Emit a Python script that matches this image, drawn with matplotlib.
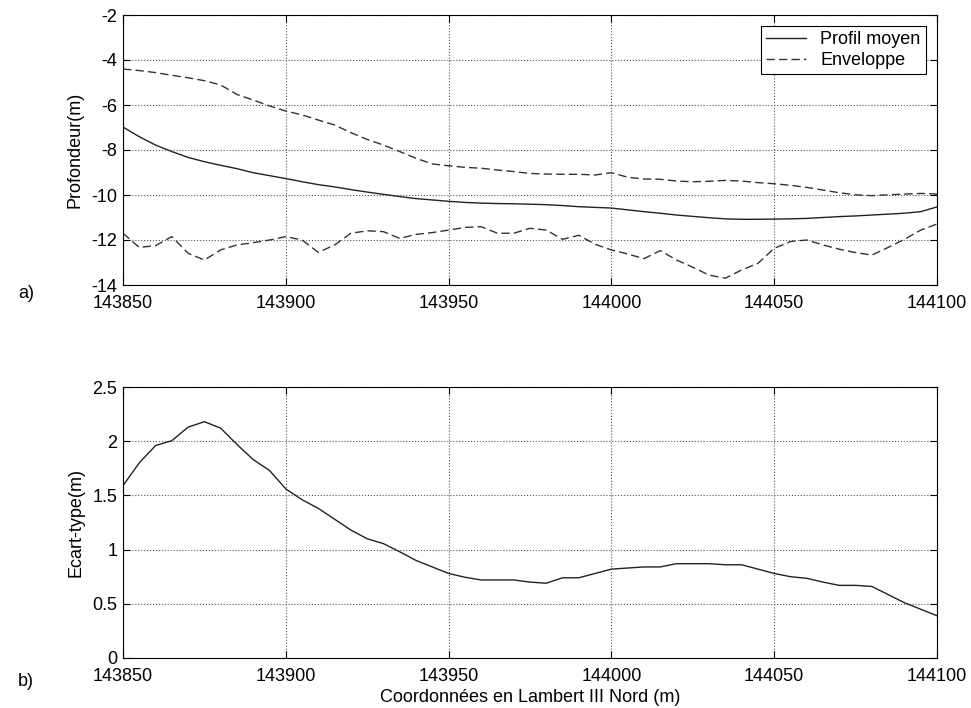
import numpy as np
import matplotlib
matplotlib.use("Agg")
import matplotlib.pyplot as plt

plt.rcParams["font.family"] = ["Liberation Sans", "DejaVu Sans"]
plt.rcParams["font.size"] = 13
plt.rcParams["axes.unicode_minus"] = False

# abscisses (Lambert III Nord, m), pas de 5 m
x = np.arange(143850, 144101, 5)

# profil moyen (m)
profil = [-6.98, -7.41, -7.78, -8.07, -8.33, -8.52, -8.68, -8.83, -9.01, -9.14,
          -9.27, -9.41, -9.54, -9.64, -9.76, -9.87, -9.97, -10.07, -10.16, -10.22,
          -10.28, -10.33, -10.36, -10.38, -10.39, -10.41, -10.43, -10.47, -10.52, -10.55,
          -10.58, -10.66, -10.74, -10.81, -10.89, -10.95, -11.01, -11.06, -11.08, -11.08,
          -11.07, -11.06, -11.04, -11.00, -10.96, -10.93, -10.89, -10.85, -10.81, -10.74,
          -10.53]

# enveloppe haute
env_haut = [-4.40, -4.47, -4.56, -4.68, -4.79, -4.92, -5.11, -5.53, -5.78, -6.04,
            -6.27, -6.44, -6.67, -6.89, -7.23, -7.53, -7.78, -8.07, -8.37, -8.62,
            -8.70, -8.77, -8.81, -8.89, -8.96, -9.04, -9.07, -9.08, -9.08, -9.11,
            -9.01, -9.21, -9.29, -9.30, -9.38, -9.41, -9.39, -9.35, -9.38, -9.45,
            -9.50, -9.57, -9.66, -9.78, -9.90, -9.99, -10.03, -9.99, -9.96, -9.93,
            -9.96]

# enveloppe basse
env_bas = [-11.70, -12.33, -12.25, -11.85, -12.59, -12.89, -12.44, -12.22, -12.12, -12.00,
           -11.85, -12.00, -12.55, -12.22, -11.70, -11.59, -11.63, -11.93, -11.75, -11.67,
           -11.56, -11.44, -11.41, -11.70, -11.70, -11.48, -11.56, -11.97, -11.79, -12.19,
           -12.44, -12.62, -12.83, -12.47, -12.89, -13.21, -13.56, -13.70, -13.33, -13.04,
           -12.37, -12.07, -12.00, -12.22, -12.41, -12.56, -12.67, -12.33, -11.97, -11.56,
           -11.29]

# ecart-type (m)
ecart = [1.59, 1.80, 1.96, 2.005, 2.13, 2.18, 2.12, 1.97, 1.83, 1.73,
         1.56, 1.46, 1.38, 1.28, 1.18, 1.10, 1.055, 0.98, 0.90, 0.84,
         0.78, 0.745, 0.72, 0.72, 0.72, 0.70, 0.69, 0.74, 0.74, 0.78,
         0.82, 0.83, 0.84, 0.84, 0.87, 0.87, 0.87, 0.86, 0.86, 0.82,
         0.78, 0.75, 0.735, 0.70, 0.67, 0.67, 0.66, 0.585, 0.51, 0.45,
         0.39]

xticks = [143850, 143900, 143950, 144000, 144050, 144100]

fig = plt.figure(figsize=(9.71, 7.08), dpi=100)
ax1 = fig.add_axes([123/971, 1 - 285/708, (937-123)/971, (285-15)/708])
ax2 = fig.add_axes([123/971, 1 - 658/708, (937-123)/971, (658-387)/708])

col = "#222222"
ax1.plot(x, profil, "-", color=col, lw=1.0, label="Profil moyen")
ax1.plot(x, env_haut, "--", color="#333333", lw=1.0, dashes=(6, 3), label="Enveloppe")
ax1.plot(x, env_bas, "--", color="#333333", lw=1.0, dashes=(6, 3))
ax1.set_ylim(-14, -2)
ax1.set_yticks(np.arange(-14, -1, 2))
ax1.set_ylabel("Profondeur(m)", labelpad=6)
leg = ax1.legend(loc="upper right", fancybox=False, framealpha=1, edgecolor="black",
                 borderaxespad=0.6, handlelength=2.2, borderpad=0.3, labelspacing=0.2)
leg.get_frame().set_linewidth(0.8)

ax2.plot(x, ecart, "-", color=col, lw=1.0)
ax2.set_ylim(0, 2.5)
ax2.set_yticks([0, 0.5, 1, 1.5, 2, 2.5])
ax2.set_yticklabels(["0", "0.5", "1", "1.5", "2", "2.5"])
ax2.set_ylabel("Ecart-type(m)", labelpad=6)
ax2.set_xlabel("Coordonnées en Lambert III Nord (m)", labelpad=3)

for ax in (ax1, ax2):
    ax.set_xlim(143850, 144100)
    ax.set_xticks(xticks)
    ax.set_xticklabels([str(t) for t in xticks])
    ax.grid(True, linestyle=":", color="#555555", lw=0.8)
    ax.tick_params(direction="in", top=True, right=True, length=5)
    ax.tick_params(axis="x", pad=7)
    ax.tick_params(axis="y", pad=4)
    for s in ax.spines.values():
        s.set_linewidth(0.8)

fig.text(18/971, 1 - 294/708, "a)", va="center", ha="left")
fig.text(18/971, 1 - 681/708, "b)", va="center", ha="left")

fig.savefig("out.png", dpi=100)
